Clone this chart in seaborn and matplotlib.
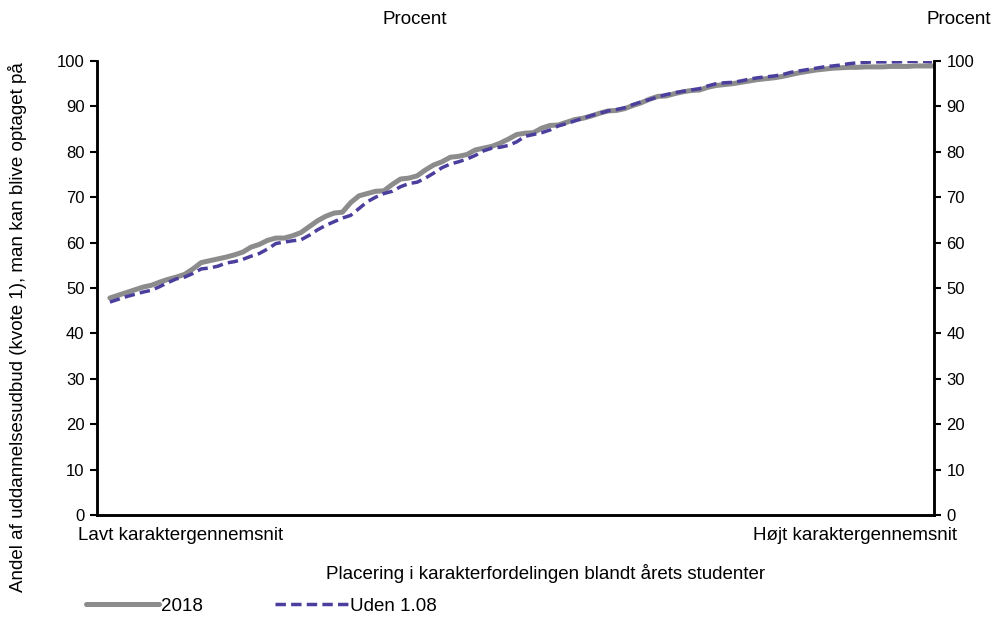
import pandas as pd
import matplotlib
matplotlib.use("Agg")
import matplotlib.pyplot as plt
import seaborn as sns

#placering i karakterfordelingen (percentil 1-100)
percentil = list(range(1, 101))

#andel af uddannelsesudbud man kan blive optaget paa, 2018
aar_2018 = [47.8, 48.4, 49.0, 49.6, 50.2, 50.6, 51.3, 51.9, 52.4, 53.0,
            54.2, 55.6, 56.0, 56.4, 56.8, 57.3, 57.9, 59.0, 59.6, 60.5,
            61.0, 61.0, 61.5, 62.2, 63.5, 64.8, 65.8, 66.5, 66.7, 68.8,
            70.3, 70.8, 71.3, 71.4, 72.8, 74.0, 74.2, 74.7, 76.0, 77.1,
            77.8, 78.8, 79.0, 79.4, 80.4, 80.8, 81.2, 81.9, 82.8, 83.8,
            84.1, 84.2, 85.2, 85.8, 85.9, 86.5, 87.1, 87.4, 87.9, 88.5,
            89.0, 89.1, 89.5, 90.2, 90.8, 91.6, 92.2, 92.3, 92.8, 93.2,
            93.5, 93.6, 94.2, 94.6, 94.8, 95.0, 95.3, 95.6, 95.9, 96.1,
            96.3, 96.6, 97.0, 97.4, 97.7, 98.0, 98.2, 98.4, 98.5, 98.6,
            98.6, 98.7, 98.7, 98.7, 98.8, 98.8, 98.8, 98.9, 98.9, 98.9]

#uden 1.08
uden_108 = [46.9, 47.5, 48.1, 48.6, 49.1, 49.5, 50.3, 51.2, 52.0, 52.4,
            53.2, 54.2, 54.4, 54.8, 55.5, 55.8, 56.3, 57.0, 57.6, 58.6,
            59.8, 60.1, 60.4, 60.6, 61.6, 62.8, 63.8, 64.6, 65.4, 66.0,
            67.5, 69.0, 70.0, 70.8, 71.3, 72.3, 73.0, 73.3, 74.2, 75.3,
            76.5, 77.3, 77.8, 78.4, 79.2, 80.2, 80.8, 81.0, 81.4, 82.2,
            83.4, 83.8, 84.2, 84.8, 85.7, 86.2, 86.8, 87.4, 88.0, 88.5,
            89.0, 89.3, 89.7, 90.4, 91.0, 91.5, 92.1, 92.6, 93.0, 93.3,
            93.6, 93.9, 94.5, 95.0, 95.2, 95.3, 95.6, 96.0, 96.3, 96.5,
            96.7, 97.0, 97.5, 97.8, 98.1, 98.4, 98.7, 98.9, 99.1, 99.4,
            99.6, 99.7, 99.8, 99.8, 99.8, 99.8, 99.9, 99.9, 99.9, 99.8]

y_ticks = [0, 10, 20, 30, 40, 50, 60, 70, 80, 90, 100]

df = pd.DataFrame({"Percentil": percentil, "2018": aar_2018, "Uden 1.08": uden_108})

sns.set_style("white")
plt.rcParams["font.family"] = ["Liberation Sans", "DejaVu Sans"]
plt.rcParams["text.color"] = "black"
plt.rcParams["ytick.color"] = "black"

fs = 13.5

fig = plt.figure(figsize=(9.93, 6.21), dpi=100)
ax = fig.add_axes([0.0977, 0.1707, 0.8429, 0.7311])

sns.lineplot(data=df, x="Percentil", y="2018", ax=ax, color="#8c8c8c", linewidth=3.6, label="2018")
sns.lineplot(data=df, x="Percentil", y="Uden 1.08", ax=ax, color="#4b3f9e", linewidth=2.5,
             linestyle=(0, (3.0, 1.5)), label="Uden 1.08")

ax.set_xlim(-0.55, 100.25)
ax.set_ylim(0, 100)
ax.set_yticks(y_ticks)
ax.set_xticks([])
ax.set_xlabel("")
ax.set_ylabel("")
ax.tick_params(axis="y", direction="out", length=5, width=1.5, labelsize=12, pad=4, left=True,
               colors="black")

ax2 = ax.twinx()
ax2.set_ylim(0, 100)
ax2.set_yticks(y_ticks)
ax2.tick_params(axis="y", direction="out", length=5, width=1.5, labelsize=12, pad=4, right=True,
                colors="black")

for a in [ax, ax2]:
    a.spines["top"].set_visible(False)
    for s in ["left", "right", "bottom"]:
        a.spines[s].set_color("black")
        a.spines[s].set_linewidth(1.8)

fig.text(0.018, 0.473, "Andel af uddannelsesudbud (kvote 1), man kan blive optaget på",
         fontsize=fs, rotation=90, ha="center", va="center")
fig.text(0.0785, 0.137, "Lavt karaktergennemsnit", fontsize=fs, ha="left", va="center")
fig.text(0.9635, 0.137, "Højt karaktergennemsnit", fontsize=fs, ha="right", va="center")
fig.text(0.549, 0.077, "Placering i karakterfordelingen blandt årets studenter", fontsize=fs, ha="center", va="center")
fig.text(0.418, 0.968, "Procent", fontsize=fs, ha="center", va="center")
fig.text(0.998, 0.968, "Procent", fontsize=fs, ha="right", va="center")

leg = ax.legend(loc="center left", bbox_to_anchor=(0.087, 0.024), bbox_transform=fig.transFigure,
                ncol=2, frameon=False, fontsize=fs, handlelength=3.85, handletextpad=0.15,
                columnspacing=3.85, borderaxespad=0, borderpad=0)
for t in leg.get_texts():
    t.set_color("black")

plt.savefig("out.png", dpi=100)
